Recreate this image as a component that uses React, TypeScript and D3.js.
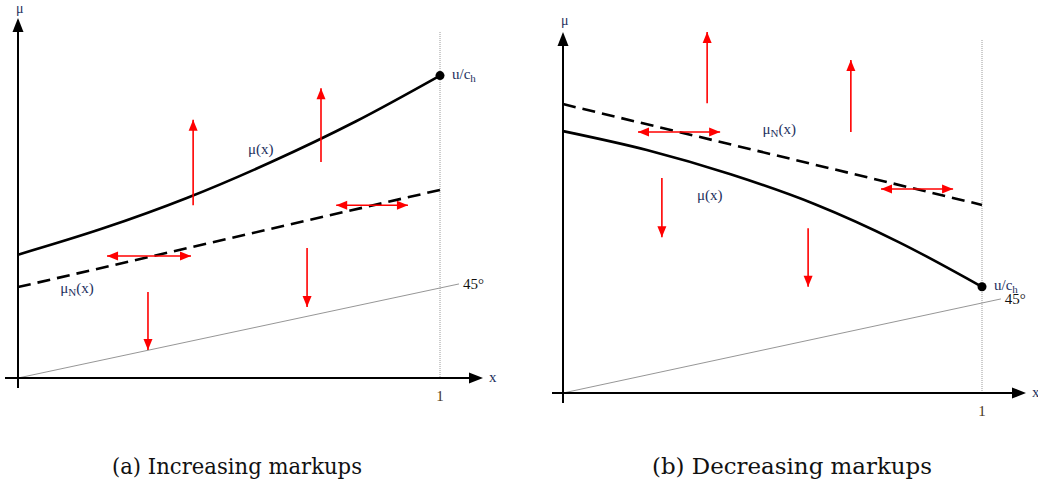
import React from "react";
import * as d3 from "d3";

// ---------- data (x in [0,1], y in units where 45° line is y = x) ----------
const gridX = [0, 0.2, 0.4, 0.6, 0.8, 1];
const muLeft = [1.37, 1.66, 2.0, 2.4, 2.85, 3.36];
const muNLeft = [1.01, 2.09]; // at x=0 and x=1
const muRight = [2.91, 2.7, 2.43, 2.1, 1.68, 1.18];
const muNRight = [3.21, 2.09];

// arrows: [x1, y1, x2, y2, doubleHeaded]
const arrowsLeft: [number, number, number, number, boolean][] = [
  [0.415, 1.92, 0.415, 2.87, false],
  [0.718, 2.4, 0.718, 3.22, false],
  [0.211, 1.356, 0.41, 1.356, true],
  [0.754, 1.92, 0.924, 1.92, true],
  [0.308, 0.956, 0.308, 0.311, false],
  [0.685, 1.444, 0.685, 0.789, false],
];
const arrowsRight: [number, number, number, number, boolean][] = [
  [0.344, 3.22, 0.344, 4.01, false],
  [0.687, 2.9, 0.687, 3.7, false],
  [0.179, 2.9, 0.375, 2.9, true],
  [0.759, 2.267, 0.931, 2.267, true],
  [0.236, 2.39, 0.236, 1.73, false],
  [0.585, 1.83, 0.585, 1.18, false],
];

const captions = ["(a) Increasing markups", "(b) Decreasing markups"];

const SERIF = "'Times New Roman', 'Liberation Serif', serif";
const CAPTION_FONT = "'DejaVu Serif', serif";
const NAVY = "#23305e";

function head(x1: number, y1: number, x2: number, y2: number, len: number, w: number) {
  const a = Math.atan2(y2 - y1, x2 - x1);
  const bx = x2 - len * Math.cos(a);
  const by = y2 - len * Math.sin(a);
  const px = (w / 2) * -Math.sin(a);
  const py = (w / 2) * Math.cos(a);
  return `M${x2},${y2}L${bx + px},${by + py}L${bx - px},${by - py}Z`;
}

type PanelProps = {
  x0: number; x1: number; yBase: number;
  mu: number[]; muN: number[];
  arrows: [number, number, number, number, boolean][];
  muLabel: [number, number]; muNLabel: [number, number];
  axisLeftExt: number; yTop: number; xEnd: number; dotTop: number; muY: number;
};

function Panel(p: PanelProps) {
  const x = d3.scaleLinear().domain([0, 1]).range([p.x0, p.x1]);
  const y = d3.scaleLinear().domain([0, 1]).range([p.yBase, p.yBase - 90]);
  const line = d3.line<[number, number]>().x(d => x(d[0])).y(d => y(d[1])).curve(d3.curveMonotoneX);
  const muPts = gridX.map((gx, i) => [gx, p.mu[i]] as [number, number]);
  const nPts: [number, number][] = [[0, p.muN[0]], [1, p.muN[1]]];
  const endY = y(p.mu[p.mu.length - 1]);
  const Y0 = y(0);
  const X0 = x(0);
  const txt = { fontFamily: SERIF, fontSize: 15 };
  return (
    <g>
      {/* dotted vertical at x=1 */}
      <line x1={x(1)} x2={x(1)} y1={p.dotTop} y2={Y0} stroke="#9a9a9a" strokeWidth={1} strokeDasharray="1,1" />
      {/* 45 degree line */}
      <line x1={X0} y1={Y0} x2={x(1.045)} y2={y(1.045)} stroke="#8a8a8a" strokeWidth={0.9} />
      <text x={x(1.045) + 4} y={y(1.045) + 5} {...txt} fill="#111">45°</text>
      {/* axes */}
      <line x1={X0 - p.axisLeftExt} y1={Y0} x2={p.xEnd - 12} y2={Y0} stroke="#000" strokeWidth={2} />
      <path d={head(X0, Y0, p.xEnd, Y0, 14, 11)} fill="#000" />
      <line x1={X0} y1={Y0 + 10} x2={X0} y2={p.yTop + 12} stroke="#000" strokeWidth={2} />
      <path d={head(X0, Y0, X0, p.yTop, 14, 11)} fill="#000" />
      <text x={p.xEnd + 6} y={Y0 + 4} {...txt} fill={NAVY}>x</text>
      <text x={X0 - 2} y={p.muY} fontFamily={SERIF} fontSize={14} fill={NAVY}>μ</text>
      <text x={x(1)} y={Y0 + 23} textAnchor="middle" {...txt} fill="#4a3418">1</text>
      {/* curves */}
      <path d={line(nPts) || ""} fill="none" stroke="#000" strokeWidth={2.6} strokeDasharray="13,7" />
      <path d={line(muPts) || ""} fill="none" stroke="#000" strokeWidth={2.6} />
      <circle cx={x(1)} cy={endY} r={4.5} fill="#000" />
      <text x={x(1) + 12} y={endY + 3} {...txt} fill={NAVY}>
        u/c<tspan fontSize={11} dy={3}>h</tspan>
      </text>
      <text x={x(p.muLabel[0])} y={y(p.muLabel[1])} {...txt} fill={NAVY}>μ(x)</text>
      <text x={x(p.muNLabel[0])} y={y(p.muNLabel[1])} {...txt} fill={NAVY}>
        μ<tspan fontSize={11} dy={3}>N</tspan><tspan dy={-3}>(x)</tspan>
      </text>
      {/* red arrows */}
      {p.arrows.map((a, i) => {
        const ax1 = x(a[0]), ay1 = y(a[1]), ax2 = x(a[2]), ay2 = y(a[3]);
        return (
          <g key={i}>
            <line x1={ax1} y1={ay1} x2={ax2} y2={ay2} stroke="#ff0000" strokeWidth={1.6} />
            <path d={head(ax1, ay1, ax2, ay2, 11, 9)} fill="#ff0000" />
            {a[4] && <path d={head(ax2, ay2, ax1, ay1, 11, 9)} fill="#ff0000" />}
          </g>
        );
      })}
    </g>
  );
}

export default function App() {
  return (
    <svg width={1038} height={487} style={{ position: "absolute", left: 0, top: 0, background: "#fff" }}>
      <Panel x0={18} x1={440} yBase={378} mu={muLeft} muN={muNLeft} arrows={arrowsLeft}
        muLabel={[0.545, 2.49]} muNLabel={[0.1, 0.94]} axisLeftExt={13} yTop={18} xEnd={483} dotTop={32} muY={13} />
      <Panel x0={563} x1={982} yBase={393} mu={muRight} muN={muNRight} arrows={arrowsRight}
        muLabel={[0.32, 2.15]} muNLabel={[0.476, 2.88]} axisLeftExt={11} yTop={32} xEnd={1026} dotTop={40} muY={25} />
      <text x={237} y={474} textAnchor="middle" fontFamily={CAPTION_FONT} fontSize={22} textLength={250} lengthAdjust="spacingAndGlyphs" fill="#111">{captions[0]}</text>
      <text x={792} y={474} textAnchor="middle" fontFamily={CAPTION_FONT} fontSize={22} textLength={280} lengthAdjust="spacingAndGlyphs" fill="#111">{captions[1]}</text>
    </svg>
  );
}
